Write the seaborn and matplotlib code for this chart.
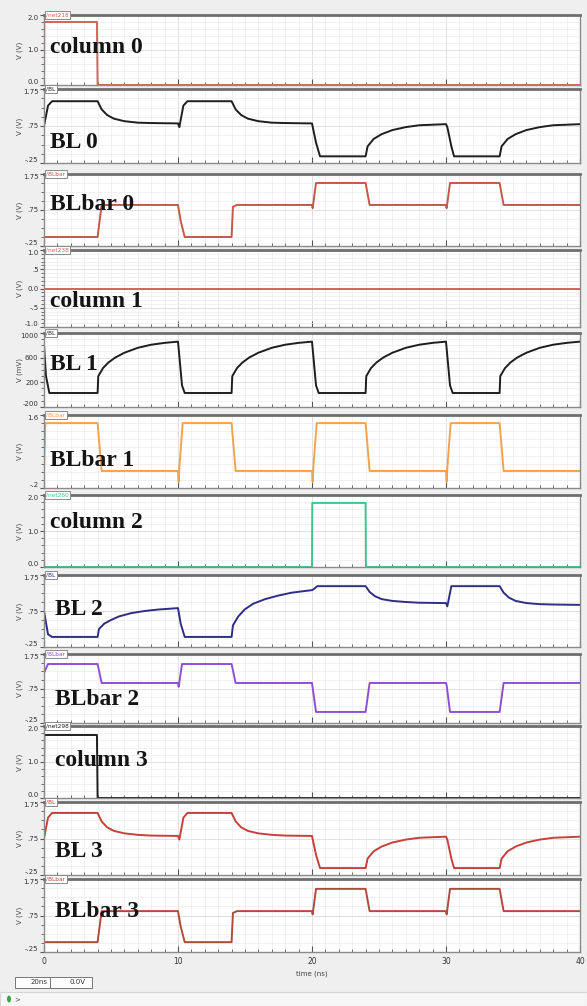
import numpy as np
import pandas as pd
import seaborn as sns
import matplotlib.pyplot as plt
from matplotlib.ticker import MultipleLocator, FixedLocator, NullFormatter
from matplotlib.patches import Rectangle, Circle

# ---- waveform data (time in ns) ----
col0_t = [0, 0.02, 3.95, 4.0, 40]
col0_v = [0, 1.8, 1.8, 0, 0]

bl0_t = [0, 0.3, 0.6, 4.0, 4.3, 4.7, 5.2, 6.0, 7.0, 8.0, 10.0, 10.1, 10.4, 10.7,
         14.0, 14.3, 14.7, 15.2, 16.0, 17.0, 18.0, 20.0, 20.3, 20.6,
         24.0, 24.15, 24.6, 25.2, 26.0, 27.0, 28.0, 30.0, 30.1, 30.4, 30.6,
         34.0, 34.15, 34.6, 35.2, 36.0, 37.0, 38.0, 40.0]
bl0_v = [0.75, 1.3, 1.42, 1.42, 1.2, 1.05, 0.95, 0.88, 0.84, 0.83, 0.82, 0.72, 1.3, 1.42,
         1.42, 1.2, 1.05, 0.95, 0.88, 0.84, 0.83, 0.82, 0.3, -0.07,
         -0.07, 0.2, 0.4, 0.53, 0.64, 0.72, 0.77, 0.8, 0.72, 0.2, -0.07,
         -0.07, 0.2, 0.4, 0.53, 0.64, 0.72, 0.77, 0.8]

bb0_t = [0, 4.0, 4.3, 10.0, 10.2, 10.5, 14.0, 14.1, 14.4, 20.0, 20.05, 20.3,
         24.0, 24.3, 30.0, 30.05, 30.3, 34.0, 34.3, 40.0]
bb0_v = [0.0, 0.0, 0.89, 0.89, 0.45, 0.0, 0.0, 0.84, 0.89, 0.89, 0.8, 1.5,
         1.5, 0.89, 0.89, 0.8, 1.5, 1.5, 0.89, 0.89]

col1_t = [0, 40]
col1_v = [0, 0]

bl1_t = [0, 0.15, 0.4,
         4.0, 4.05, 4.4, 4.8, 5.3, 6.0, 7.0, 8.0, 9.0, 10.0, 10.3, 10.5,
         14.0, 14.05, 14.4, 14.8, 15.3, 16.0, 17.0, 18.0, 19.0, 20.0, 20.3, 20.5,
         24.0, 24.05, 24.4, 24.8, 25.3, 26.0, 27.0, 28.0, 29.0, 30.0, 30.3, 30.5,
         34.0, 34.05, 34.4, 34.8, 35.3, 36.0, 37.0, 38.0, 39.0, 40.0]
bl1_v = [800, 300, 27,
         27, 300, 430, 520, 600, 680, 760, 810, 840, 860, 150, 27,
         27, 300, 430, 520, 600, 680, 760, 810, 840, 860, 150, 27,
         27, 300, 430, 520, 600, 680, 760, 810, 840, 860, 150, 27,
         27, 300, 430, 520, 600, 680, 760, 810, 840, 860]

bb1_t = [0, 0.1, 4.0, 4.3, 10.0, 10.05, 10.1, 10.35, 14.0, 14.3,
         20.0, 20.05, 20.1, 20.35, 24.0, 24.3, 30.0, 30.05, 30.1, 30.35, 34.0, 34.3, 40.0]
bb1_v = [0.22, 1.4, 1.4, 0.22, 0.22, -0.05, 0.3, 1.4, 1.4, 0.22,
         0.22, -0.05, 0.3, 1.4, 1.4, 0.22, 0.22, -0.05, 0.3, 1.4, 1.4, 0.22, 0.22]

col2_t = [0, 20.0, 20.02, 24.0, 24.02, 40]
col2_v = [0, 0, 1.78, 1.78, 0, 0]

bl2_t = [0, 0.3, 0.6, 4.0, 4.1, 4.5, 5.0, 5.6, 6.5, 7.5, 8.5, 10.0, 10.2, 10.5,
         14.0, 14.1, 14.5, 15.0, 15.6, 16.5, 17.5, 18.5, 20.0, 20.1, 20.4,
         24.0, 24.3, 24.7, 25.2, 26.0, 27.0, 28.0, 30.0, 30.1, 30.4,
         34.0, 34.3, 34.7, 35.2, 36.0, 37.0, 38.0, 40.0]
bl2_v = [0.75, 0.1, 0.03, 0.03, 0.25, 0.4, 0.5, 0.6, 0.69, 0.75, 0.79, 0.83, 0.4, 0.03,
         0.03, 0.35, 0.6, 0.8, 0.95, 1.08, 1.18, 1.26, 1.33, 1.35, 1.44,
         1.44, 1.28, 1.16, 1.08, 1.03, 1.0, 0.98, 0.97, 0.88, 1.44,
         1.44, 1.26, 1.12, 1.03, 0.97, 0.94, 0.93, 0.92]

bb2_t = [0, 0.3, 4.0, 4.3, 10.0, 10.05, 10.3, 14.0, 14.3, 20.0, 20.3,
         24.0, 24.3, 30.0, 30.05, 30.3, 34.0, 34.3, 40.0]
bb2_v = [1.2, 1.46, 1.46, 0.91, 0.91, 0.8, 1.46, 1.46, 0.91, 0.91, 0.07,
         0.07, 0.91, 0.91, 0.84, 0.07, 0.07, 0.91, 0.91]

col3_t = [0, 0.02, 3.95, 4.0, 40]
col3_v = [0, 1.75, 1.75, 0, 0]

bl3_t = bl0_t
bl3_v = [0.75, 1.32, 1.45, 1.45, 1.22, 1.06, 0.96, 0.89, 0.85, 0.83, 0.82, 0.72, 1.32, 1.45,
         1.45, 1.22, 1.06, 0.96, 0.89, 0.85, 0.83, 0.82, 0.3, -0.06,
         -0.06, 0.2, 0.4, 0.53, 0.64, 0.72, 0.77, 0.8, 0.72, 0.2, -0.06,
         -0.06, 0.2, 0.4, 0.53, 0.64, 0.72, 0.77, 0.8]

bb3_t = bb0_t
bb3_v = [0.02, 0.02, 0.87, 0.87, 0.45, 0.02, 0.02, 0.82, 0.87, 0.87, 0.78, 1.48,
         1.48, 0.87, 0.87, 0.78, 1.48, 1.48, 0.87, 0.87]

labels = ['column 0', 'BL 0', 'BLbar 0', 'column 1', 'BL 1', 'BLbar 1',
          'column 2', 'BL 2', 'BLbar 2', 'column 3', 'BL 3', 'BLbar 3']
tabs = ['/net218', '/BL', '/BLbar', '/net238', '/BL', '/BLbar',
        '/net260', '/BL', '/BLbar', '/net298', '/BL', '/BLbar']
series_t = [col0_t, bl0_t, bb0_t, col1_t, bl1_t, bb1_t, col2_t, bl2_t, bb2_t, col3_t, bl3_t, bb3_t]
series_v = [col0_v, bl0_v, bb0_v, col1_v, bl1_v, bb1_v, col2_v, bl2_v, bb2_v, col3_v, bl3_v, bb3_v]

# y axis settings per panel
col_ticks = ([0.0, 1.0, 2.0], ['0.0', '1.0', '2.0'], 0.2, (0.0, 2.0), 'V (V)')
bl_ticks = ([-0.25, 0.75, 1.75], ['-.25', '.75', '1.75'], 0.25, (-0.25, 1.75), 'V (V)')
c1_ticks = ([-1.0, -0.5, 0.0, 0.5, 1.0], ['-1.0', '-.5', '0.0', '.5', '1.0'], 0.1, (-1.0, 1.0), 'V (V)')
mv_ticks = ([-200, 200, 600, 1000], ['-200', '200', '600', '1000'], 100, (-200, 1000), 'V (mV)')
b1_ticks = ([-0.2, 1.6], ['-.2', '1.6'], 0.2, (-0.2, 1.6), 'V (V)')
yset = [col_ticks, bl_ticks, bl_ticks, c1_ticks, mv_ticks, b1_ticks,
        col_ticks, bl_ticks, bl_ticks, col_ticks, bl_ticks, bl_ticks]

colors = ['#d9605c', '#1e1e1e', '#c4584a', '#d9605c', '#1e1e1e', '#f2a34e',
          '#3fc48e', '#2e2e86', '#8e4fd6', '#1e1e1e', '#c8403c', '#b04a3c']

# pixel layout of the panels (top, bottom) and label baselines
W, H = 587, 1006
X0, X1 = 44, 580
boxes = [(15, 85), (89, 163), (174, 246), (250, 327), (333, 407), (415, 488),
         (495, 567), (575, 647), (654, 723), (726, 798), (802, 875), (879, 952)]
label_pos = [(50, 53), (50, 148), (50, 210), (50, 307), (50, 370), (50, 466),
             (50, 528), (55, 615), (55, 705), (55, 766), (55, 857), (55, 917)]

fig = plt.figure(figsize=(W / 100, H / 100), dpi=100)
fig.patch.set_facecolor('#efefef')

for i in range(12):
    top, bot = boxes[i]
    ax = fig.add_axes([X0 / W, 1 - bot / H, (X1 - X0) / W, (bot - top) / H])
    ax.set_facecolor('white')
    df = pd.DataFrame({'t': series_t[i], 'v': series_v[i]})
    sns.lineplot(data=df, x='t', y='v', ax=ax, color=colors[i], linewidth=1.4,
                 estimator=None, sort=False)
    ticks, ticklabels, minor, ylim, ylab = yset[i]
    ax.set_xlim(0, 40)
    ax.set_ylim(*ylim)
    ax.yaxis.set_major_locator(FixedLocator(ticks))
    ax.set_yticklabels(ticklabels)
    ax.yaxis.set_minor_locator(MultipleLocator(minor))
    ax.xaxis.set_major_locator(MultipleLocator(10))
    ax.xaxis.set_minor_locator(MultipleLocator(1))
    ax.grid(which='major', color='#dcdcdc', linewidth=0.6)
    ax.grid(which='minor', color='#ececec', linewidth=0.5)
    ax.set_axisbelow(True)
    ax.set_xlabel('')
    ax.set_ylabel('')
    ax.tick_params(axis='y', which='both', direction='out', colors='#555555',
                   labelsize=5, pad=1, labelcolor='#333333')
    ax.tick_params(axis='y', which='major', length=3)
    ax.tick_params(axis='y', which='minor', length=2)
    ax.tick_params(axis='x', which='both', direction='in', colors='#555555',
                   labelsize=5.5, labelcolor='#333333')
    ax.tick_params(axis='x', which='major', length=4)
    ax.tick_params(axis='x', which='minor', length=2)
    # keep the end labels inside their own panel so neighbours do not collide
    ylabels = ax.get_yticklabels()
    ylabels[0].set_va('bottom')
    ylabels[-1].set_va('top')
    if i < 11:
        ax.xaxis.set_major_formatter(NullFormatter())
    for s in ax.spines.values():
        s.set_color('#8a8a8a')
        s.set_linewidth(1.0)
    ax.spines['top'].set_color('#6e6e6e')
    ax.spines['top'].set_linewidth(2.0)
    ax.text(0.004, 1.0, tabs[i], transform=ax.transAxes, fontsize=4.2,
            color=colors[i], va='center', ha='left', zorder=6, clip_on=False,
            bbox=dict(boxstyle='square,pad=0.25', fc='white', ec='#8a8a8a', lw=0.7))
    fig.text(20 / W, 1 - (top + bot) / 2 / H, ylab, rotation=90, fontsize=5,
             ha='center', va='center', color='#444444')
    lx, ly = label_pos[i]
    fig.text(lx / W, 1 - ly / H, labels[i], fontsize=17, fontweight='bold',
             family='Liberation Serif', ha='left', va='baseline', color='#141414',
             zorder=10)

# x axis title and the status strip under the plot
fig.text(312 / W, 1 - 974 / H, 'time (ns)', fontsize=5, ha='center', va='center',
         color='#444444')
fig.add_artist(Rectangle((0, 0), 1, 14 / H, transform=fig.transFigure,
                         facecolor='#f6f6f6', edgecolor='#d6d6d6', lw=0.8))
fig.add_artist(Rectangle((15 / W, 1 - 988 / H), 35 / W, 11 / H, transform=fig.transFigure,
                         facecolor='white', edgecolor='#777777', lw=0.7))
fig.add_artist(Rectangle((50 / W, 1 - 988 / H), 42 / W, 11 / H, transform=fig.transFigure,
                         facecolor='white', edgecolor='#777777', lw=0.7))
fig.text(48 / W, 1 - 982.5 / H, '20ns', fontsize=5, ha='right', va='center', color='#333333')
fig.text(86 / W, 1 - 982.5 / H, '0.0V', fontsize=5, ha='right', va='center', color='#333333')
fig.add_artist(Circle((9 / W, 1 - 999 / H), 2 / W, transform=fig.transFigure,
                      facecolor='#3aa04a', edgecolor='none'))
fig.text(17 / W, 1 - 999 / H, '>', fontsize=5, ha='center', va='center', color='#555555')

fig.savefig('out.png', dpi=100, facecolor=fig.get_facecolor())
